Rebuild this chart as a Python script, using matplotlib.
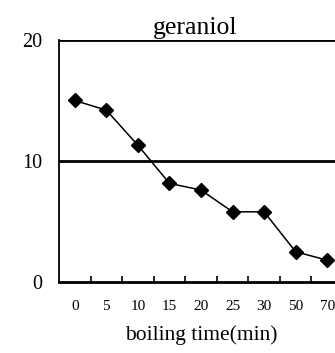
import numpy as np
import matplotlib.pyplot as plt

plt.rcParams['font.family'] = ['Liberation Serif', 'DejaVu Serif']

# data
times = ['0', '5', '10', '15', '20', '25', '30', '50', '70']
geraniol = [15.0, 14.2, 11.3, 8.15, 7.6, 5.8, 5.8, 2.5, 1.8]

fig = plt.figure(figsize=(3.35, 3.53), dpi=100)
ax = fig.add_axes([59/335, 1 - 282/353, 284/335, 242/353])

x = np.arange(len(times))
ax.plot(x, geraniol, color='black', linewidth=1.1, marker='D',
        markersize=7.5, markerfacecolor='black', markeredgecolor='black')

ax.set_xlim(-0.5, len(times) - 0.5)
ax.set_ylim(0, 20)
ax.set_yticks([0, 10, 20])
ax.set_yticklabels(['0', '10', '20'], fontsize=14.5)
ax.tick_params(axis='y', length=0, pad=12)

ax.set_xticks(x)
ax.set_xticklabels(times, fontsize=11)
ax.tick_params(axis='x', which='major', length=0, pad=13)
ax.set_xticks(x[:-1] + 0.5, minor=True)
ax.tick_params(axis='x', which='minor', direction='in', length=4, width=1.2)

# horizontal lines at 10 and 20
for yv in [10, 20]:
    ax.axhline(yv, color='black', linewidth=2.0, zorder=1)

ax.spines['right'].set_visible(False)
ax.spines['top'].set_visible(False)
ax.spines['left'].set_linewidth(1.3)
ax.spines['bottom'].set_linewidth(2.0)

ax.set_xlabel('boiling time(min)', fontsize=15.5, labelpad=9)
ax.set_title('geraniol', fontsize=18.5, pad=4, x=0.48)

fig.savefig('out.png', dpi=100)
